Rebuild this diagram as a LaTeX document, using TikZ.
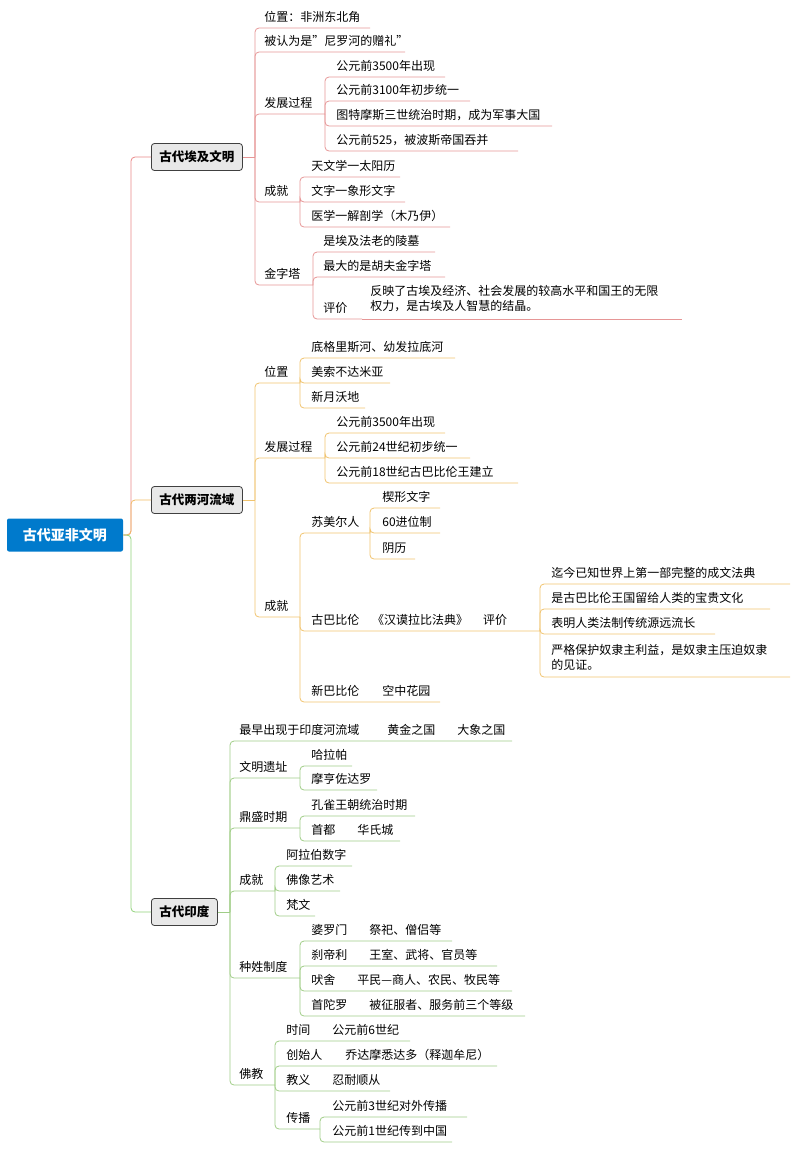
\documentclass[tikz,border=0pt]{standalone}
\usepackage{fontspec}
\setmainfont{Noto Sans CJK SC}
\usetikzlibrary{positioning}
\definecolor{rootblue}{RGB}{0,122,204}
\definecolor{egred}{RGB}{230,150,150}
\definecolor{rvorange}{RGB}{240,195,110}
\definecolor{ingreen}{RGB}{160,205,135}
\tikzset{
  txt/.style={inner sep=0pt, anchor=west, font=\fontsize{12}{15}\selectfont},
  topbox/.style={fill=rootblue, rounded corners=2pt, text=white, font=\fontsize{14}{16}\selectfont\bfseries, minimum width=116pt, minimum height=33pt},
  mainbox/.style={fill=black!9, draw=black!75, rounded corners=3pt, font=\fontsize{12.5}{15}\selectfont\bfseries, minimum height=27pt, inner xsep=8pt},
}
% #1 colour, #2 x of branch, #3 y of parent line, #4 x of text, #5 y of text, #6 end of line, #7 name, #8 text
\newcommand\lf[8]{%
  \node[txt] (#7) at (#4,#5) {#8};
  \draw[#1, rounded corners=4pt] (#2,#3) |- (#6,{#5+11});}
\begin{document}
\begin{tikzpicture}[x=1pt,y=-1pt,line width=0.8pt]
\useasboundingbox (0,0) rectangle (794,1149);

% Wurzel
\node[topbox] (root) at (65,535) {古代亚非文明};
\node[mainbox, anchor=west] (egypt) at (151,157) {古代埃及文明};
\node[mainbox, anchor=west] (river) at (151,500) {古代两河流域};
\node[mainbox, anchor=west] (india) at (151,912) {古代印度};
\begin{scope}[rounded corners=4pt]
  \draw[egred!90!red] (root.east) -- (131,535) |- (egypt.west);
  \draw[rvorange!90!orange] (root.east) -- (131,535) |- (river.west);
  \draw[ingreen!90!green] (root.east) -- (131,535) |- (india.west);
\end{scope}

% Aegypten
\draw[egred] (egypt.east) -- (255,157);
\lf{egred}{255}{157}{264}{17}{370}{e1}{位置：非洲东北角}
\lf{egred}{255}{157}{264}{41}{405}{e2}{被认为是"尼罗河的赠礼"}
\lf{egred}{255}{157}{264}{103}{325}{e3}{发展过程}
\lf{egred}{325}{114}{336}{66}{445}{e31}{公元前3500年出现}
\lf{egred}{325}{114}{336}{90}{470}{e32}{公元前3100年初步统一}
\lf{egred}{325}{114}{336}{115}{552}{e33}{图特摩斯三世统治时期，成为军事大国}
\lf{egred}{325}{114}{336}{140}{518}{e34}{公元前525，被波斯帝国吞并}
\lf{egred}{255}{157}{264}{191}{300}{e4}{成就}
\lf{egred}{300}{202}{311}{166}{400}{e41}{天文学一太阳历}
\lf{egred}{300}{202}{311}{191}{405}{e42}{文字一象形文字}
\lf{egred}{300}{202}{311}{216}{450}{e43}{医学一解剖学（木乃伊）}
\lf{egred}{255}{157}{264}{274}{313}{e5}{金字塔}
\lf{egred}{313}{285}{323}{241}{435}{e51}{是埃及法老的陵墓}
\lf{egred}{313}{285}{323}{266}{445}{e52}{最大的是胡夫金字塔}
\lf{egred}{313}{285}{323}{308}{362}{e53}{评价}
\node[txt, align=left] (e531) at (370,299) {反映了古埃及经济、社会发展的较高水平和国王的无限\\权力，是古埃及人智慧的结晶。};
\draw[egred] (362,319) -- (682,319);

% Zweistromland
\draw[rvorange] (river.east) -- (255,500);
\lf{rvorange}{255}{500}{264}{372}{300}{r1}{位置}
\lf{rvorange}{300}{383}{311}{347}{455}{r11}{底格里斯河、幼发拉底河}
\lf{rvorange}{300}{383}{311}{372}{390}{r12}{美索不达米亚}
\lf{rvorange}{300}{383}{311}{397}{365}{r13}{新月沃地}
\lf{rvorange}{255}{500}{264}{447}{325}{r2}{发展过程}
\lf{rvorange}{325}{458}{336}{422}{445}{r21}{公元前3500年出现}
\lf{rvorange}{325}{458}{336}{447}{470}{r22}{公元前24世纪初步统一}
\lf{rvorange}{325}{458}{336}{472}{518}{r23}{公元前18世纪古巴比伦王建立}
\lf{rvorange}{255}{500}{264}{606}{300}{r3}{成就}
\lf{rvorange}{300}{617}{311}{522}{370}{r31}{苏美尔人}
\lf{rvorange}{370}{533}{382}{497}{440}{r311}{楔形文字}
\lf{rvorange}{370}{533}{382}{522}{440}{r312}{60进位制}
\lf{rvorange}{370}{533}{382}{548}{415}{r313}{阴历}
\lf{rvorange}{300}{617}{311}{620}{540}{r32}{古巴比伦}
\node[txt, right=12pt of r32] (r32a) {《汉谟拉比法典》};
\node[txt, right=14pt of r32a] (r32b) {评价};
\lf{rvorange}{540}{631}{551}{573}{790}{r321}{迄今已知世界上第一部完整的成文法典}
\lf{rvorange}{540}{631}{551}{598}{770}{r322}{是古巴比伦王国留给人类的宝贵文化}
\lf{rvorange}{540}{631}{551}{623}{715}{r323}{表明人类法制传统源远流长}
\node[txt, align=left] (r324) at (551,657) {严格保护奴隶主利益，是奴隶主压迫奴隶\\的见证。};
\draw[rvorange, rounded corners=4pt] (540,631) |- (790,677);
\lf{rvorange}{300}{617}{311}{691}{440}{r33}{新巴比伦}
\node[txt] (r33a) at (382,691) {空中花园};

% Indien
\draw[ingreen] (india.east) -- (230,912);
\lf{ingreen}{230}{912}{239}{730}{512}{i1}{最早出现于印度河流域}
\node[txt] (i1a) at (387,730) {黄金之国};
\node[txt] (i1b) at (457,730) {大象之国};
\lf{ingreen}{230}{912}{239}{767}{300}{i2}{文明遗址}
\lf{ingreen}{300}{778}{311}{755}{352}{i21}{哈拉帕}
\lf{ingreen}{300}{778}{311}{779}{377}{i22}{摩亨佐达罗}
\lf{ingreen}{230}{912}{239}{817}{300}{i3}{鼎盛时期}
\lf{ingreen}{300}{828}{311}{805}{415}{i31}{孔雀王朝统治时期}
\lf{ingreen}{300}{828}{311}{830}{400}{i32}{首都}
\node[txt] (i32a) at (357,830) {华氏城};
\lf{ingreen}{230}{912}{239}{880}{275}{i4}{成就}
\lf{ingreen}{275}{891}{286}{855}{352}{i41}{阿拉伯数字}
\lf{ingreen}{275}{891}{286}{880}{340}{i42}{佛像艺术}
\lf{ingreen}{275}{891}{286}{905}{315}{i43}{梵文}
\lf{ingreen}{230}{912}{239}{967}{300}{i5}{种姓制度}
\lf{ingreen}{300}{978}{311}{930}{452}{i51}{婆罗门}
\node[txt] (i51a) at (369,930) {祭祀、僧侣等};
\lf{ingreen}{300}{978}{311}{955}{497}{i52}{刹帝利}
\node[txt] (i52a) at (369,955) {王室、武将、官员等};
\lf{ingreen}{300}{978}{311}{980}{512}{i53}{吠舍}
\node[txt] (i53a) at (357,980) {平民—商人、农民、牧民等};
\lf{ingreen}{300}{978}{311}{1005}{525}{i54}{首陀罗}
\node[txt] (i54a) at (369,1005) {被征服者、服务前三个等级};
\lf{ingreen}{230}{912}{239}{1074}{275}{i6}{佛教}
\lf{ingreen}{275}{1085}{286}{1030}{410}{i61}{时间}
\node[txt] (i61a) at (332,1030) {公元前6世纪};
\lf{ingreen}{275}{1085}{286}{1055}{497}{i62}{创始人}
\node[txt] (i62a) at (345,1055) {乔达摩悉达多（释迦牟尼）};
\lf{ingreen}{275}{1085}{286}{1080}{390}{i63}{教义}
\node[txt] (i63a) at (332,1080) {忍耐顺从};
\lf{ingreen}{275}{1085}{286}{1118}{320}{i64}{传播}
\lf{ingreen}{320}{1129}{332}{1106}{467}{i641}{公元前3世纪对外传播}
\lf{ingreen}{320}{1129}{332}{1131}{452}{i642}{公元前1世纪传到中国}
\end{tikzpicture}
\end{document}
